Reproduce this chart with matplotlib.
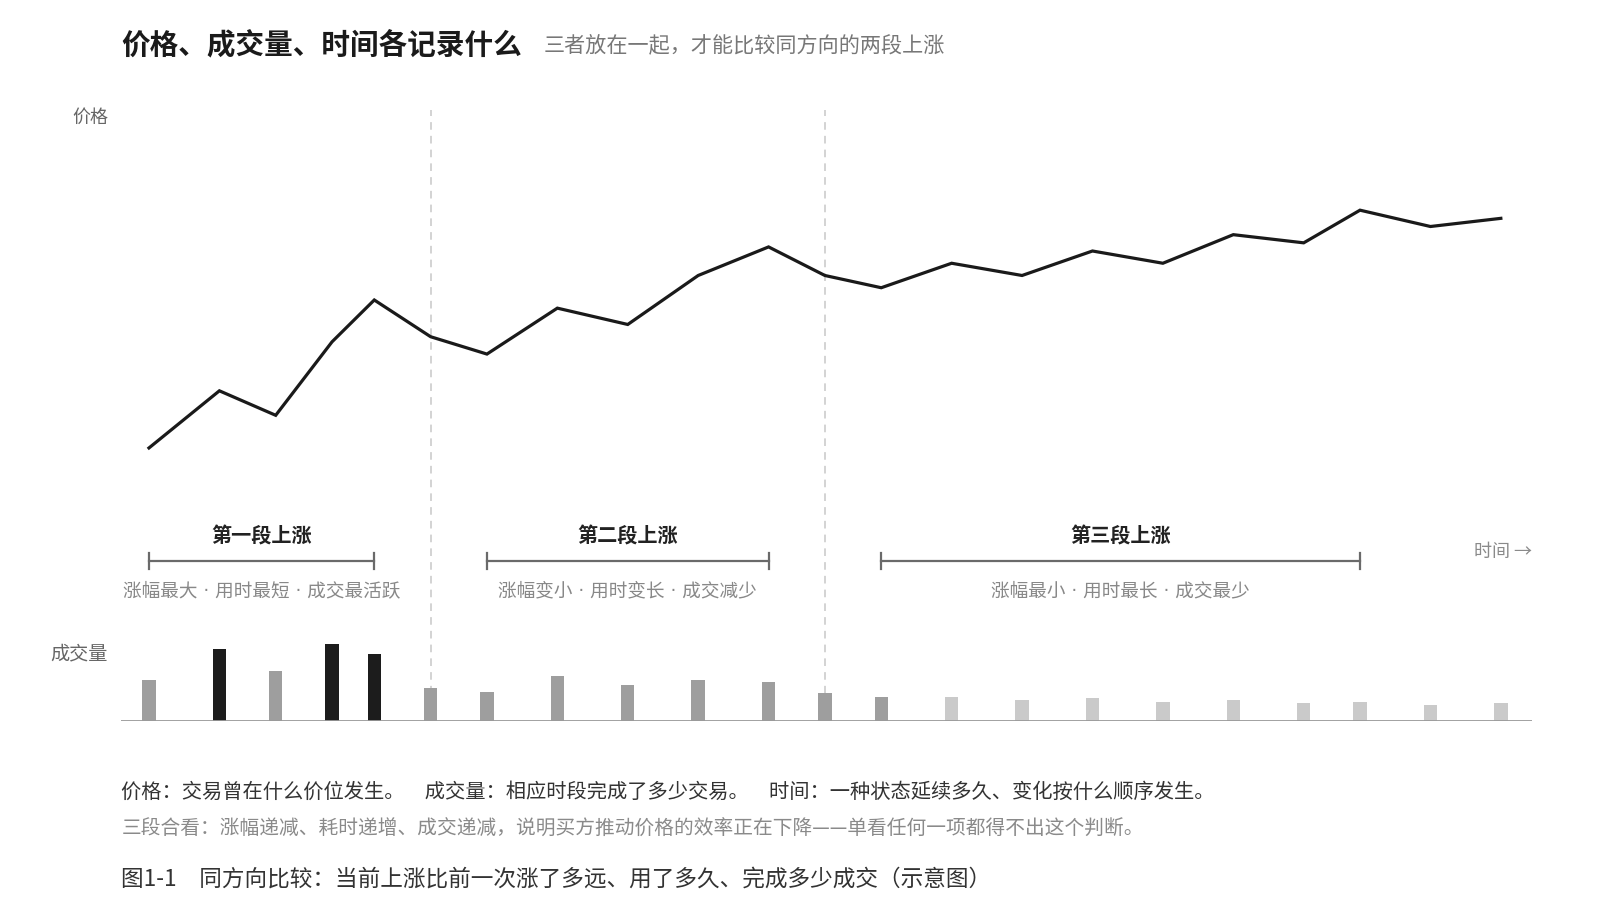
import matplotlib
matplotlib.use('Agg')
import matplotlib.pyplot as plt

plt.rcParams['font.family'] = ['Noto Sans CJK SC', 'DejaVu Sans']

# 数据：时间点（非等距）、价格、成交量
time_points = [0, 1, 1.8, 2.6, 3.2, 4.0, 4.8, 5.8, 6.8, 7.8, 8.8,
               9.6, 10.4, 11.4, 12.4, 13.4, 14.4, 15.4, 16.4, 17.2, 18.2, 19.2]
price = [10.0, 12.8, 11.6, 15.2, 17.25, 15.45, 14.6, 16.85, 16.05, 18.45, 19.85,
         18.45, 17.85, 19.05, 18.45, 19.65, 19.05, 20.45, 20.05, 21.65, 20.85, 21.25]
volume = [41, 71, 49, 76, 66, 33, 29, 45, 36, 41, 39,
          28, 24, 24, 21, 23, 19, 21, 18, 19, 16, 18]

# 三段上涨：起点、终点索引
seg_titles = ['第一段上涨', '第二段上涨', '第三段上涨']
seg_notes = ['涨幅最大 · 用时最短 · 成交最活跃',
             '涨幅变小 · 用时变长 · 成交减少',
             '涨幅最小 · 用时最长 · 成交最少']
seg_range = [(0, 4), (6, 10), (12, 19)]
divider_idx = [5, 11]

# 柱子颜色
dark, mid, light = '#1c1c1c', '#9e9e9e', '#cacaca'
bar_colors = [mid, dark, mid, dark, dark] + [mid] * 8 + [light] * 9

fig = plt.figure(figsize=(16, 9.06), dpi=100)

ax_left, ax_w = 0.0759, 0.8814
ax = fig.add_axes([ax_left, 0.2037, ax_w, 0.6747])
axv = fig.add_axes([ax_left, 0.2037, ax_w, 0.0901])
for a in (ax, axv):
    a.set_xlim(-0.391, 19.638)
    a.set_xticks([])
    a.set_yticks([])
    for s in a.spines.values():
        s.set_visible(False)
    a.patch.set_alpha(0)

ax.set_ylim(-3.4, 26.55)
axv.set_ylim(0, 80)

# 价格折线
ax.plot(time_points, price, color='#1a1a1a', lw=2.3, solid_joinstyle='miter', zorder=3)

# 分隔虚线
for i in divider_idx:
    ax.axvline(time_points[i], ymin=0, ymax=1, color='#c8c8c8', lw=1.1,
               dashes=(5, 4), zorder=1)

# 成交量柱
axv.bar(time_points, volume, width=0.19, color=bar_colors, zorder=2)
axv.axhline(0, color='#9a9a9a', lw=1.3, zorder=3)

# 分段标注
tr = ax.get_xaxis_transform()
for title, note, (a, b) in zip(seg_titles, seg_notes, seg_range):
    x0, x1 = time_points[a], time_points[b]
    xm = (x0 + x1) / 2
    ax.plot([x0, x1], [0.2621, 0.2621], transform=tr, color='#6a6a6a', lw=1.6, clip_on=False)
    for xx in (x0, x1):
        ax.plot([xx, xx], [0.2621 - 0.0134, 0.2621 + 0.0134], transform=tr,
                color='#6a6a6a', lw=1.6, clip_on=False)
    ax.text(xm, 0.3040, title, transform=tr, ha='center', va='center',
            fontsize=14.5, fontweight='bold', color='#222222')
    # 间隔点用西文字体，保持小圆点
    ax.text(xm, 0.2137, note, transform=tr, ha='center', va='center',
            fontsize=13.4, color='#888888', family=['DejaVu Sans', 'Noto Sans CJK SC'])

ax.text(1.0, 0.2775, '时间 →', transform=ax.transAxes, ha='right', va='center',
        fontsize=13, color='#8a8a8a')

# 轴标签
fig.text(0.0676, 0.8705, '价格', ha='right', va='center', fontsize=13, color='#666666')
fig.text(0.0676, 0.2780, '成交量', ha='right', va='center', fontsize=13.8, color='#666666')

# 标题
fig.text(0.0759, 0.9515, '价格、成交量、时间各记录什么', ha='left', va='center',
         fontsize=20.6, fontweight='bold', color='#1a1a1a')
fig.text(0.3399, 0.9490, '三者放在一起，才能比较同方向的两段上涨', ha='left', va='center',
         fontsize=15.2, color='#777777')

# 说明文字
fig.text(0.0759, 0.1250,
         '价格：交易曾在什么价位发生。　成交量：相应时段完成了多少交易。　时间：一种状态延续多久、变化按什么顺序发生。',
         ha='left', va='center', fontsize=14.6, color='#333333')
fig.text(0.0759, 0.0844,
         '三段合看：涨幅递减、耗时递增、成交递减，说明买方推动价格的效率正在下降——单看任何一项都得不出这个判断。',
         ha='left', va='center', fontsize=14.2, color='#8a8a8a')
fig.text(0.0759, 0.0292,
         '图1-1　同方向比较：当前上涨比前一次涨了多远、用了多久、完成多少成交（示意图）',
         ha='left', va='center', fontsize=16.3, color='#333333')

fig.savefig('out.png', dpi=100)
